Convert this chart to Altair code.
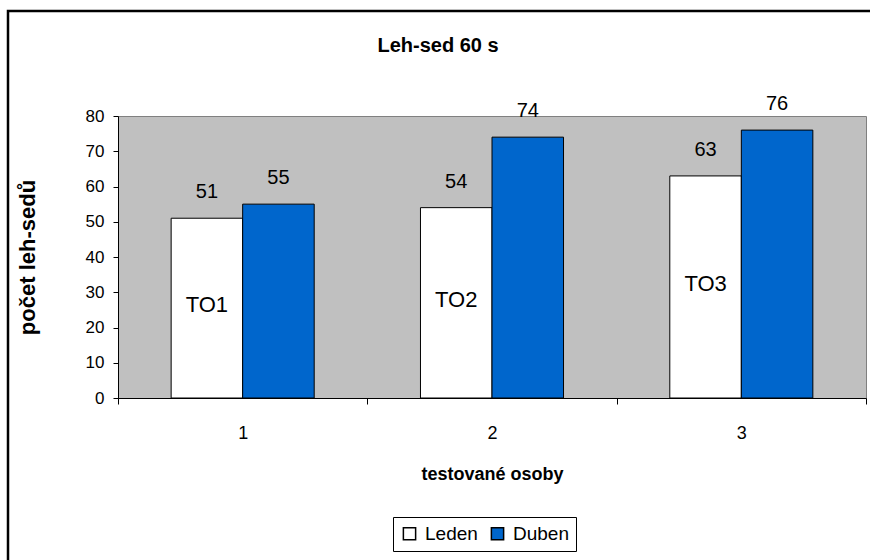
import altair as alt
import pandas as pd

# Sit-ups in 60 s for three tested persons, January vs April
osoby = ["1", "2", "3"]
jmena = ["TO1", "TO2", "TO3"]
mesice = ["Leden", "Duben"]
leden = [51, 54, 63]
duben = [55, 74, 76]
barvy = ["#FFFFFF", "#0066CC"]

rows = []
for o, j, l, d in zip(osoby, jmena, leden, duben):
    rows.append({"osoba": o, "jmeno": j, "mesic": "Leden", "pocet": l})
    rows.append({"osoba": o, "jmeno": j, "mesic": "Duben", "pocet": d})
df = pd.DataFrame(rows)

FONT = "Arial, Liberation Sans"
W, H = 748, 282

x_enc = alt.X(
    "osoba:N",
    sort=osoby,
    scale=alt.Scale(paddingInner=0, paddingOuter=0),
    axis=alt.Axis(
        title="testované osoby",
        labelAngle=0,
        tickBand="extent",
        tickSize=6,
        labelPadding=20,
        labelFontSize=18,
        titleFontSize=18,
        titlePadding=23,
    ),
)
xo_enc = alt.XOffset(
    "mesic:N",
    sort=mesice,
    scale=alt.Scale(paddingInner=0, paddingOuter=0.743),
)
y_axis = alt.Axis(
    title="počet leh-sedů",
    values=list(range(0, 81, 10)),
    labelOverlap=False,
    tickSize=5,
    labelPadding=9,
    labelFontSize=17,
    titleFontSize=22,
    titlePadding=46,
    grid=False,
)
y_scale = alt.Scale(domain=[0, 80], nice=False)

base = alt.Chart(df)

bars = base.mark_bar(stroke="black", strokeWidth=1).encode(
    x=x_enc,
    xOffset=xo_enc,
    y=alt.Y("pocet:Q", scale=y_scale, axis=y_axis),
    color=alt.Color(
        "mesic:N",
        sort=mesice,
        scale=alt.Scale(domain=mesice, range=barvy),
        legend=alt.Legend(
            title=None,
            orient="none",
            direction="horizontal",
            legendX=275,
            legendY=401,
            symbolType="square",
            symbolSize=150,
            symbolStrokeColor="black",
            symbolStrokeWidth=1.5,
            labelFontSize=19,
            labelFont=FONT,
            labelColor="black",
            columnPadding=10,
            labelOffset=6,
            padding=7,
            strokeColor="black",
            fillColor="white",
        ),
    ),
)

values = base.mark_text(
    baseline="bottom", dy=-16, fontSize=20, font=FONT, color="black"
).encode(
    x=x_enc, xOffset=xo_enc,
    y=alt.Y("pocet:Q", scale=y_scale, axis=y_axis),
    text="pocet:Q",
)

names = (
    base.transform_filter(alt.datum.mesic == "Leden")
    .transform_calculate(stred="datum.pocet / 2")
    .mark_text(baseline="middle", dy=-3, fontSize=22, font=FONT, color="black")
    .encode(
        x=x_enc, xOffset=xo_enc,
        y=alt.Y("stred:Q", scale=y_scale, axis=y_axis),
        text="jmeno:N",
    )
)

frame = (
    alt.Chart(pd.DataFrame({"f": [0]}))
    .mark_rect(fill=None, stroke="black", strokeWidth=2.5)
    .encode(
        x=alt.value(-110), x2=alt.value(770),
        y=alt.value(-105), y2=alt.value(460),
    )
)

title = (
    alt.Chart(pd.DataFrame({"t": ["Leh-sed 60 s"]}))
    .mark_text(font=FONT, fontSize=20, fontWeight="bold", color="black",
               align="center", baseline="alphabetic")
    .encode(x=alt.value(320), y=alt.value(-64), text="t:N")
)

chart = (
    alt.layer(frame, bars, values, names, title)
    .properties(
        width=W,
        height=H,
        autosize=alt.AutoSizeParams(type="none"),
        padding={"left": 118, "top": 116, "right": 4, "bottom": 162},
        background="white",
    )
    .configure_view(fill="#C0C0C0", stroke="#808080", strokeWidth=1)
    .configure_axis(
        domainColor="black",
        domainWidth=1,
        tickColor="black",
        labelColor="black",
        labelFont=FONT,
        titleFont=FONT,
        titleFontWeight="bold",
        titleColor="black",
    )
)

chart.save("out.html", embed_options={"renderer": "svg", "actions": False})
